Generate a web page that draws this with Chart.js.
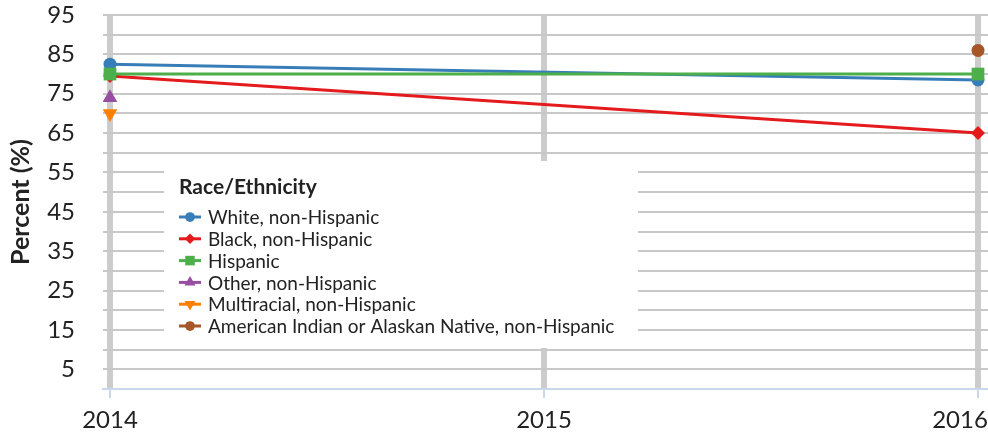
<!DOCTYPE html>
<html>
<head>
<meta charset="utf-8">
<script src="https://cdn.jsdelivr.net/npm/chart.js@4"></script>
<style>
  html, body { margin: 0; padding: 0; background: #fff; }
  #wrap { width: 988px; height: 437px; position: relative; }
</style>
</head>
<body>
<div id="wrap"><canvas id="chart" width="988" height="437"></canvas></div>
<script>
// data
const years = [2014, 2015, 2016];
const seriesNames = [
    "White, non-Hispanic",
    "Black, non-Hispanic",
    "Hispanic",
    "Other, non-Hispanic",
    "Multiracial, non-Hispanic",
    "American Indian or Alaskan Native, non-Hispanic"
];
const whiteVals = [82.5, null, 78.5];
const blackVals = [79.5, null, 65];
const hispanicVals = [80, null, 80];
const otherVals = [74, null, null];
const multiVals = [70, null, null];
const aianVals = [null, null, 86];
const yTicks = [5, 15, 25, 35, 45, 55, 65, 75, 85, 95];
const legendTitle = "Race/Ethnicity";

const colors = ['#377eb8', '#e41a1c', '#4daf4a', '#984ea3', '#ff7f00', '#a65628'];
const styles = ['circle', 'rectRot', 'rect', 'triangle', 'triangle', 'circle'];
const rotations = [0, 0, 0, 0, 180, 0];
const radii = [6.5, 7, 9, 8.5, 8.5, 6.5];
const drawOrder = [3, 2, 1, 0, 0, 0];
const allVals = [whiteVals, blackVals, hispanicVals, otherVals, multiVals, aianVals];

const FONT = "Lato, 'Open Sans', sans-serif";

function toPoints(vals) {
    const pts = [];
    vals.forEach((v, i) => { if (v !== null) pts.push({ x: years[i], y: v }); });
    return pts;
}

const datasets = seriesNames.map((name, i) => ({
    label: name,
    data: toPoints(allVals[i]),
    borderColor: colors[i],
    backgroundColor: colors[i],
    borderWidth: 3,
    pointStyle: styles[i],
    pointRotation: rotations[i],
    pointRadius: radii[i],
    pointBorderWidth: 0,
    pointBackgroundColor: colors[i],
    order: drawOrder[i],
    tension: 0,
    fill: false
}));

// 👉 legend box sits inside the plot, on top of the grid
const boxLegend = {
    id: 'boxLegend',
    beforeDatasetsDraw(chart) {
        const ctx = chart.ctx;
        const area = chart.chartArea;
        const bx = area.left + 61, by = area.top + 146, bw = 474, bh = 187;
        ctx.save();
        ctx.fillStyle = '#ffffff';
        ctx.fillRect(bx, by, bw, bh);

        ctx.fillStyle = '#222222';
        ctx.textBaseline = 'middle';
        ctx.textAlign = 'left';
        ctx.font = "bold 21px " + FONT;
        ctx.fillText(legendTitle, bx + 15, by + 26);

        ctx.font = "19px " + FONT;
        seriesNames.forEach((name, i) => {
            const cy = by + 56 + i * 21.8;
            const lx = bx + 15;
            ctx.strokeStyle = colors[i];
            ctx.lineWidth = 3;
            ctx.beginPath(); ctx.moveTo(lx, cy); ctx.lineTo(lx + 22, cy); ctx.stroke();
            ctx.fillStyle = colors[i];
            Chart.helpers.drawPoint(ctx, { pointStyle: styles[i], rotation: rotations[i], radius: radii[i] * 0.75, borderWidth: 0 }, lx + 11, cy);
            ctx.fillStyle = '#222222';
            ctx.fillText(name, bx + 44, cy + 1);
        });
        ctx.restore();
    }
};

new Chart(document.getElementById('chart').getContext('2d'), {
    type: 'line',
    data: { datasets: datasets },
    plugins: [boxLegend],
    options: {
        responsive: false,
        devicePixelRatio: 1,
        animation: false,
        layout: { autoPadding: false, padding: { top: 15, right: 0, left: 0, bottom: 0 } },
        plugins: { legend: { display: false }, tooltip: { enabled: false } },
        scales: {
            x: {
                type: 'linear',
                min: 2014 - 7 / 434,
                max: 2016 + 10 / 434,
                afterBuildTicks: (scale) => { scale.ticks = years.map(v => ({ value: v })); },
                afterFit: (scale) => { scale.paddingLeft = 0; scale.paddingRight = 0; scale.height = 48; },
                // last label is nudged left so it stays inside the canvas
                ticks: { callback: v => (v === years[years.length - 1] ? String(v) + '\u2003\u2003' : String(v)), color: '#222', font: { family: FONT, size: 24 }, padding: 8, maxRotation: 0, autoSkip: false },
                grid: { color: '#cccccc', lineWidth: 6, tickColor: '#c9d8e8', tickWidth: 2, tickLength: 9 },
                border: { display: true, color: '#c9d8e8', width: 2 }
            },
            y: {
                min: 0,
                max: 95,
                afterBuildTicks: (scale) => {
                    const t = [];
                    for (let v = 0; v <= 95; v += 5) t.push({ value: v });
                    scale.ticks = t;
                },
                afterFit: (scale) => { scale.width = 103; scale.paddingTop = 0; scale.paddingBottom = 0; },
                ticks: {
                    callback: v => (yTicks.includes(v) ? String(v) : ''),
                    autoSkip: false,
                    color: '#222', font: { family: FONT, size: 24 }, padding: 28
                },
                grid: { color: (c) => (c.tick && c.tick.value === 0 ? 'rgba(0,0,0,0)' : '#c8c8c8'), lineWidth: 2, drawTicks: false },
                border: { display: false },
                title: { display: true, text: 'Percent (%)', color: '#222', font: { family: FONT, size: 25, weight: 'bold' }, padding: { top: 6, bottom: 0 } }
            }
        }
    }
});
</script>
</body>
</html>
